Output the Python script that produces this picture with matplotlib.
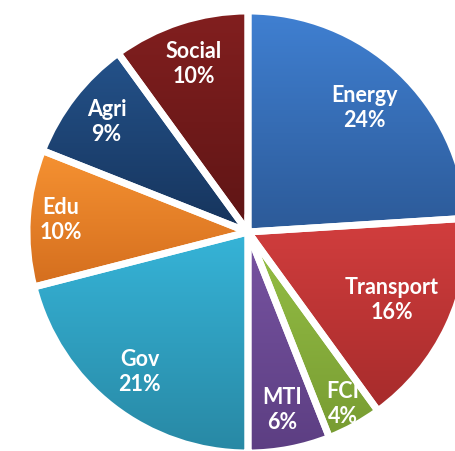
import matplotlib
matplotlib.use("Agg")
import matplotlib.pyplot as plt
import numpy as np
from matplotlib.colors import LinearSegmentedColormap

# Slice data (clockwise from 12 o'clock)
sectors = ['Energy', 'Transport', 'FCI', 'MTI', 'Gov', 'Edu', 'Agri', 'Social']
shares = [24, 16, 4, 6, 21, 10, 9, 10]

# Styling: top/bottom gradient colours and label distance per slice
top_colors = ['#4080D2', '#D23E3E', '#96C046', '#7854A2', '#36B4D8', '#F69232', '#24528A', '#821F1F']
bottom_colors = ['#2C5A98', '#A62B2B', '#789C32', '#5C3E82', '#2888A4', '#D46E1E', '#16345C', '#5E1515']
label_dist = [0.77, 0.72, 0.89, 0.82, 0.80, 0.85, 0.81, 0.80]

W, H = 456, 451
fig = plt.figure(figsize=(W / 100, H / 100), dpi=100)
ax = fig.add_axes([0, 0, 1, 1])

cx, cy, R = 248, H - 232, 221
wedges, _ = ax.pie(
    shares, startangle=90, counterclock=False, center=(cx, cy), radius=R,
    wedgeprops=dict(edgecolor='white', linewidth=5),
)

for w, ctop, cbot in zip(wedges, top_colors, bottom_colors):
    w.set_facecolor('none')
    w.set_zorder(2)
    # vertical gradient clipped to the wedge
    bb = w.get_path().get_extents(w.get_patch_transform())
    cmap = LinearSegmentedColormap.from_list('g', [cbot, ctop])
    grad = np.linspace(0, 1, 256).reshape(-1, 1)
    im = ax.imshow(grad, cmap=cmap, origin='lower', aspect='auto',
                   extent=(bb.x0, bb.x1, bb.y0, bb.y1), zorder=1)
    im.set_clip_path(w)

ax.set_xlim(0, W)
ax.set_ylim(0, H)
ax.set_aspect('equal')
ax.axis('off')

for w, name, val, d in zip(wedges, sectors, shares, label_dist):
    mid = np.deg2rad((w.theta1 + w.theta2) / 2)
    x = cx + d * R * np.cos(mid)
    y = cy + d * R * np.sin(mid)
    ax.text(x, y, f"{name}\n{val}%", ha='center', va='center', color='white',
            fontsize=15.5, fontweight='bold', family=['Lato', 'DejaVu Sans'],
            linespacing=1.25, zorder=3)

fig.savefig('out.png', dpi=100)
